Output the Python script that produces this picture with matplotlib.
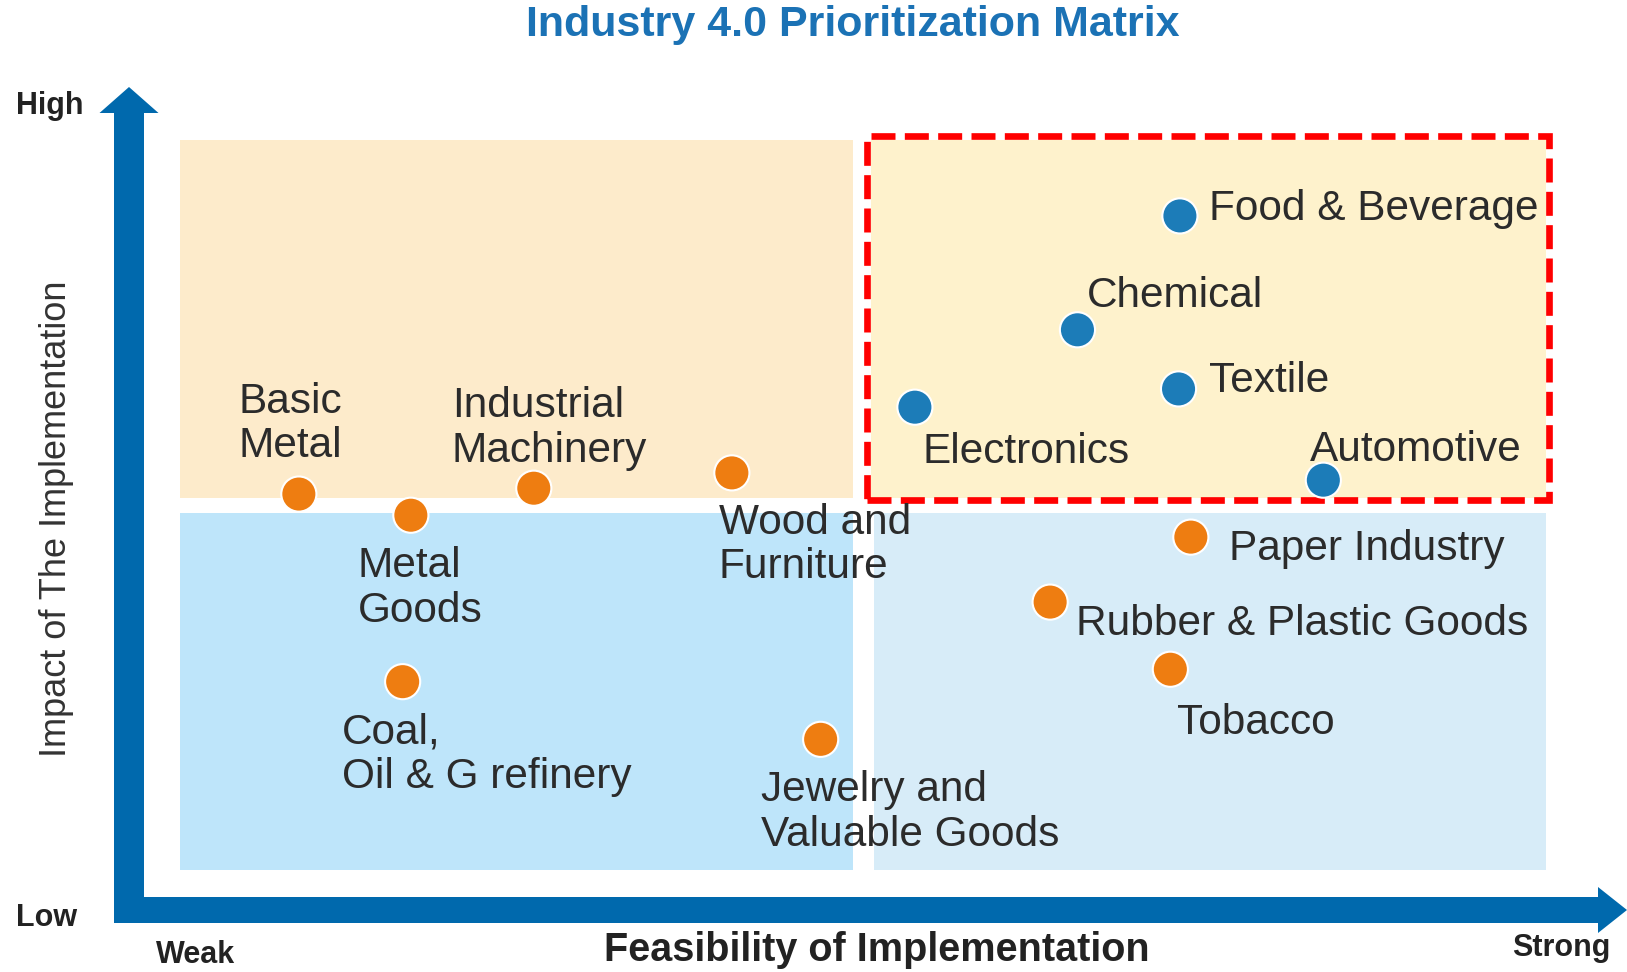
import matplotlib
matplotlib.use("Agg")
import matplotlib.pyplot as plt
from matplotlib.patches import Rectangle, FancyArrow

plt.rcParams['font.family'] = ['Liberation Sans', 'DejaVu Sans']

# sector scores (0-10 on both axes)
names = ['Basic\nMetal', 'Metal\nGoods', 'Industrial\nMachinery', 'Wood and\nFurniture',
         'Coal,\nOil & G refinery', 'Jewelry and\nValuable Goods', 'Paper Industry',
         'Rubber & Plastic Goods', 'Tobacco',
         'Food & Beverage', 'Chemical', 'Textile', 'Electronics', 'Automotive']
feasibility = [0.87, 1.69, 2.59, 4.04, 1.63, 4.69, 7.40, 6.37, 7.25,
               7.32, 6.57, 7.31, 5.38, 8.37]
impact = [5.15, 4.86, 5.23, 5.44, 2.58, 1.79, 4.56, 3.67, 2.75,
          8.96, 7.40, 6.59, 6.34, 5.34]
priority = [False] * 9 + [True] * 5

# label offsets in pixels (dx right, dy down)
label_dx = [-60, -53, -82, -13, -61, -60, 38, 26, 7, 29, 9, 30, 8, -13]
label_dy = [-70, 73, -60, 72, 73, 73, 12, 22, 54, -7, -34, -8, 45, -30]

W, H = 1627, 972
fig = plt.figure(figsize=(W / 100, H / 100), dpi=100)

# background layer in pixel units for arrows and axis captions
bg = fig.add_axes([0, 0, 1, 1])
bg.set_xlim(0, W)
bg.set_ylim(H, 0)
bg.axis('off')

blue = '#0069AD'
bg.add_patch(FancyArrow(129, 923, 0, -836, width=30, head_width=59, head_length=26,
                        length_includes_head=True, color=blue, lw=0))
bg.add_patch(FancyArrow(114, 910, 1513, 0, width=26, head_width=46, head_length=29,
                        length_includes_head=True, color=blue, lw=0))

bg.text(853, 25, 'Industry 4.0 Prioritization Matrix', ha='center', va='center',
        fontsize=31, fontweight='bold', color='#1B72B5')
bg.text(16, 106, 'High', ha='left', va='center', fontsize=22, fontweight='bold', color='#222222')
bg.text(16, 918, 'Low', ha='left', va='center', fontsize=22, fontweight='bold', color='#222222')
bg.text(156, 955, 'Weak', ha='left', va='center', fontsize=22, fontweight='bold', color='#222222')
bg.text(1610, 948, 'Strong', ha='right', va='center', fontsize=22, fontweight='bold', color='#222222')
bg.text(877, 950, 'Feasibility of Implementation', ha='center', va='center',
        fontsize=28.5, fontweight='bold', color='#222222')
bg.text(57, 519, 'Impact of The Implementation', ha='center', va='center', rotation=90,
        fontsize=26, color='#333333')

# matrix area
ax = fig.add_axes([180 / W, 102 / H, 1366 / W, 730 / H])
ax.set_xlim(0, 10)
ax.set_ylim(0, 10)
ax.axis('off')

ax.add_patch(Rectangle((0, 5.10), 4.93, 4.90, color='#FDEBCB', lw=0, zorder=0))
ax.add_patch(Rectangle((5.06, 5.10), 4.94, 4.90, color='#FEF2CC', lw=0, zorder=0))
ax.add_patch(Rectangle((0, 0), 4.93, 4.89, color='#BEE5FA', lw=0, zorder=0))
ax.add_patch(Rectangle((5.08, 0), 4.92, 4.89, color='#D7ECF8', lw=0, zorder=0))
ax.add_patch(Rectangle((5.03, 5.07), 4.99, 4.98, fill=False, edgecolor='#FF0000',
                       lw=4.8, linestyle=(0, (3.6, 1.4)), clip_on=False, zorder=1))

colors = ['#1C7CB8' if p else '#EE7D11' for p in priority]
ax.scatter(feasibility, impact, s=640, c=colors, edgecolors='white', linewidths=1.5,
           zorder=3, clip_on=False)

for n, fx, iy, dx, dy in zip(names, feasibility, impact, label_dx, label_dy):
    ax.annotate(n, (fx, iy), xytext=(dx, -dy), textcoords='offset pixels',
                ha='left', va='center', fontsize=30.5, color='#2B2B2B',
                linespacing=1.15, zorder=4, annotation_clip=False)

fig.savefig('out.png', dpi=100)
